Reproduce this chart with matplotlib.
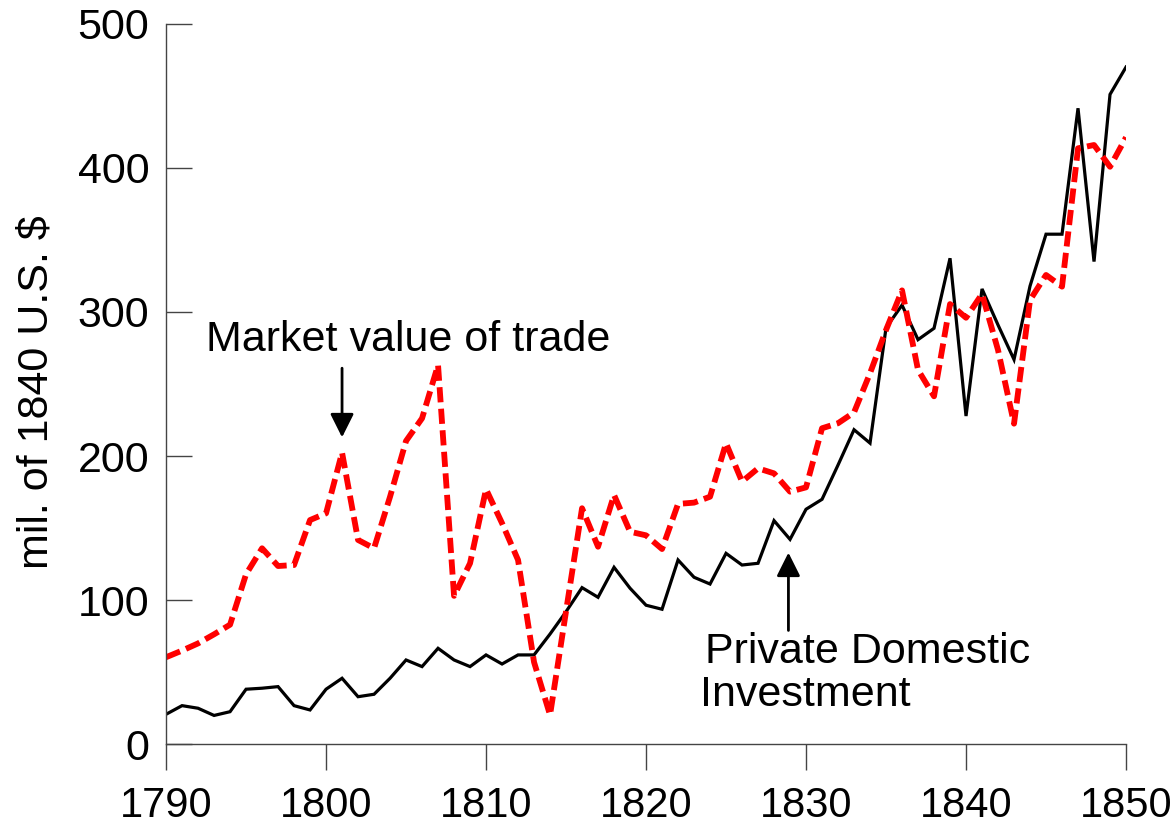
import matplotlib
matplotlib.use("Agg")
import matplotlib.pyplot as plt

plt.rcParams['font.family'] = ['Liberation Sans', 'DejaVu Sans']

years = list(range(1790, 1851))

# private domestic investment (black solid)
investment = [20.8, 26.8, 25, 20, 22.6, 38.2, 38.9, 40, 26.8, 23.8,
              38.2, 45.8, 33, 34.7, 45.8, 58.5, 53.9, 66.6, 58.5, 53.9,
              62, 55.7, 62, 62, 76.5, 92, 108.7, 102, 122.8, 108.3,
              96.5, 93.7, 127.9, 115.9, 111.2, 132.5, 124.4, 125.6, 155.2, 142.2,
              163.1, 170, 193.8, 218.3, 209, 289, 304.8, 280.8, 288.7, 337.3,
              227.8, 316, 291, 267, 318, 354, 354, 441.4, 335, 451,
              470]

# market value of trade (red dashed)
trade = [60.4, 65, 70, 76.3, 83, 118, 136, 123.7, 124.4, 155.6,
         160.3, 202.4, 141.8, 136, 171.8, 210.5, 226.2, 263.2, 103, 125.6,
         177, 153.4, 127.9, 57, 20.3, 92.3, 163.8, 137.1, 173, 147.5,
         145, 135.5, 166.8, 167.7, 171.8, 208.9, 182.3, 191.5, 188, 175.3,
         178.3, 219.3, 222.8, 230.3, 257.5, 287.5, 315, 259.8, 241.5, 305.5,
         296, 312.5, 273.6, 222.5, 308.3, 325.7, 317.6, 413.6, 415.9, 400.8,
         421.2]

xticks = [1790, 1800, 1810, 1820, 1830, 1840, 1850]
yticks = [0, 100, 200, 300, 400, 500]

fig = plt.figure(figsize=(11.76, 8.3), dpi=100)
ax = fig.add_axes([0.1412, 0.1033, 0.8163, 0.868])

ax.plot(years, investment, color='black', lw=2.3, solid_joinstyle='miter')
ax.plot(years, trade, color='#ff0000', lw=4.2, dashes=(2.6, 1.1))

ax.set_xlim(1790, 1850)
ax.set_ylim(0, 500)
ax.set_xticks(xticks)
ax.set_yticks(yticks)

for s in ['top', 'right']:
    ax.spines[s].set_visible(False)
for s in ['left', 'bottom']:
    ax.spines[s].set_color('#444444')
    ax.spines[s].set_linewidth(1.0)

ax.tick_params(axis='y', direction='in', length=18.7, width=1, color='#444444',
               labelsize=31, pad=12)
ax.tick_params(axis='x', direction='out', length=18.7, width=1, color='#444444',
               labelsize=30, pad=11)

fig.text(37 / 1176, 1 - 392 / 830, 'mil. of 1840 U.S. $', rotation=90,
         ha='center', va='center', fontsize=31)

# annotations
ax.text(1792.5, 280.5, 'Market value of trade', fontsize=31, ha='left', va='center')
ax.annotate('', xy=(1801, 213), xytext=(1801, 261),
            arrowprops=dict(arrowstyle='-|>', lw=2, color='black',
                            mutation_scale=36, shrinkA=0, shrinkB=0))

ax.text(1823.7, 64, 'Private Domestic', fontsize=31, ha='left', va='center')
ax.text(1823.4, 34, 'Investment', fontsize=31, ha='left', va='center')
ax.annotate('', xy=(1828.9, 133), xytext=(1828.9, 79),
            arrowprops=dict(arrowstyle='-|>', lw=2, color='black',
                            mutation_scale=36, shrinkA=0, shrinkB=0))

fig.savefig('out.png', dpi=100)
